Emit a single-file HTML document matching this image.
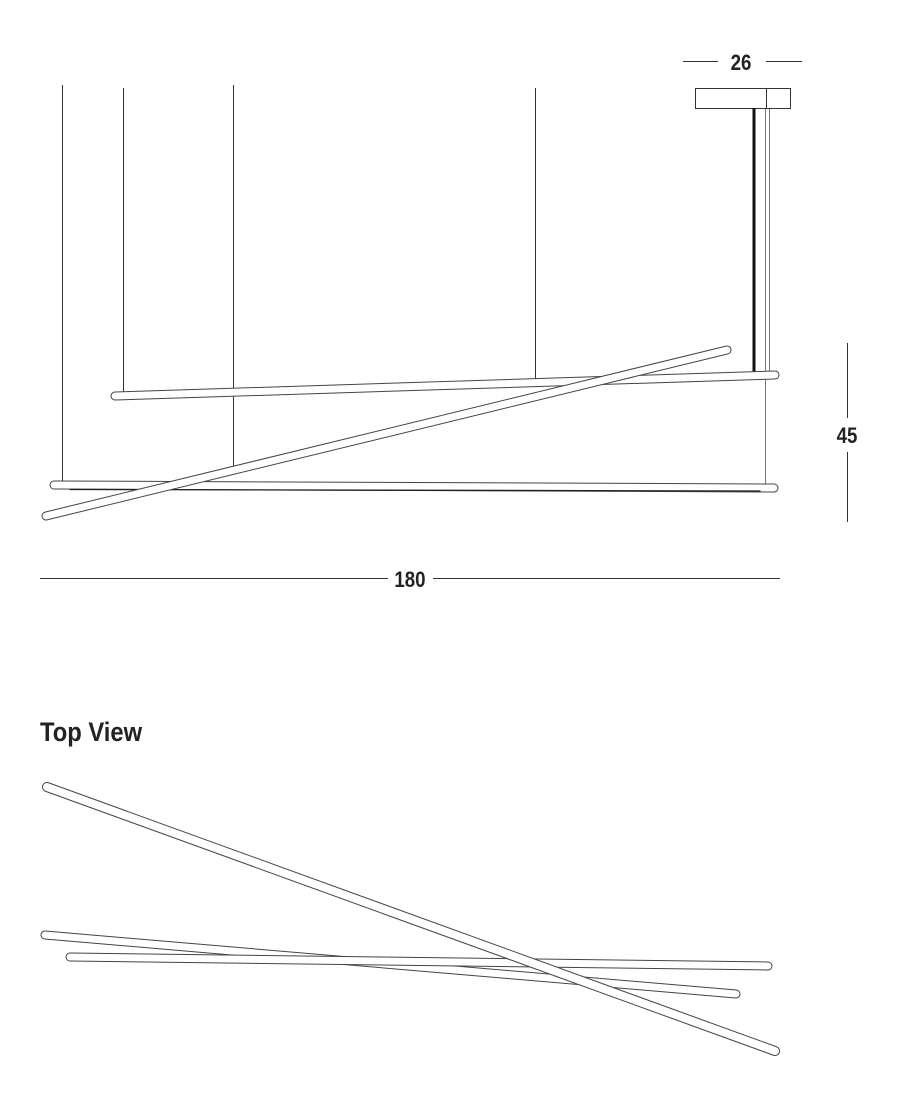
<!DOCTYPE html>
<html><head><meta charset="utf-8"><style>
html,body{margin:0;padding:0;background:#fff;}
svg{display:block;}
text{font-family:"Liberation Sans",sans-serif;fill:#222;}
</style></head><body>
<svg width="900" height="1100" viewBox="0 0 900 1100" xmlns="http://www.w3.org/2000/svg">
<g stroke="#333" stroke-width="1" fill="none">
  <!-- wires -->
  <line x1="62.5" y1="85" x2="62.5" y2="483"/>
  <line x1="123.5" y1="88" x2="123.5" y2="394"/>
  <line x1="233.5" y1="85" x2="233.5" y2="468"/>
  <line x1="535.5" y1="88" x2="535.5" y2="386"/>
  <line x1="765.5" y1="108" x2="765.5" y2="485" stroke="#777"/>
  <line x1="769.5" y1="108" x2="769.5" y2="372" stroke="#777"/>
  <!-- canopy -->
  <rect x="695.5" y="88.5" width="95" height="20"/>
  <line x1="766.5" y1="88" x2="766.5" y2="108"/>
  <!-- dims -->
  <line x1="683" y1="61.5" x2="718" y2="61.5"/>
  <line x1="766" y1="61.5" x2="802" y2="61.5"/>
  <line x1="847.5" y1="343" x2="847.5" y2="418"/>
  <line x1="847.5" y1="452" x2="847.5" y2="522"/>
  <line x1="40" y1="578.5" x2="388" y2="578.5"/>
  <line x1="433" y1="578.5" x2="780" y2="578.5"/>
</g>
<line x1="754" y1="108" x2="754" y2="372" stroke="#111" stroke-width="3"/>
<g stroke-linecap="round">
  <!-- bottom bar -->
  <line x1="54" y1="485" x2="774" y2="488" stroke="#444" stroke-width="9"/>
  <line x1="54" y1="485" x2="774" y2="488" stroke="#fff" stroke-width="7"/>
  <line x1="70" y1="489.5" x2="760" y2="491" stroke="#222" stroke-width="1.3"/>
  <!-- upper bar -->
  <line x1="115" y1="396" x2="775" y2="375" stroke="#444" stroke-width="9"/>
  <line x1="115" y1="396" x2="775" y2="375" stroke="#fff" stroke-width="7"/>
  <!-- diagonal -->
  <line x1="46" y1="516" x2="727" y2="350" stroke="#444" stroke-width="9"/>
  <line x1="46" y1="516" x2="727" y2="350" stroke="#fff" stroke-width="7"/>
  <!-- top view -->
  <line x1="45" y1="935" x2="736" y2="994" stroke="#444" stroke-width="9"/>
  <line x1="45" y1="935" x2="736" y2="994" stroke="#fff" stroke-width="7"/>
  <line x1="70" y1="957" x2="768" y2="966" stroke="#444" stroke-width="9"/>
  <line x1="70" y1="957" x2="768" y2="966" stroke="#fff" stroke-width="7"/>
  <line x1="47" y1="787" x2="775" y2="1051" stroke="#444" stroke-width="10"/>
  <line x1="47" y1="787" x2="775" y2="1051" stroke="#fff" stroke-width="8"/>
</g>
<text x="741" y="70" font-size="22" text-anchor="middle" font-weight="bold" transform="translate(741 0) scale(0.85 1) translate(-741 0)">26</text>
<text x="847" y="443" font-size="22" text-anchor="middle" font-weight="bold" transform="translate(847 0) scale(0.85 1) translate(-847 0)">45</text>
<text x="410" y="587" font-size="22" text-anchor="middle" font-weight="bold" transform="translate(410 0) scale(0.85 1) translate(-410 0)">180</text>
<text x="40" y="741" font-size="27" font-weight="bold" transform="translate(40 0) scale(0.88 1) translate(-40 0)">Top View</text>
</svg>
</body></html>
